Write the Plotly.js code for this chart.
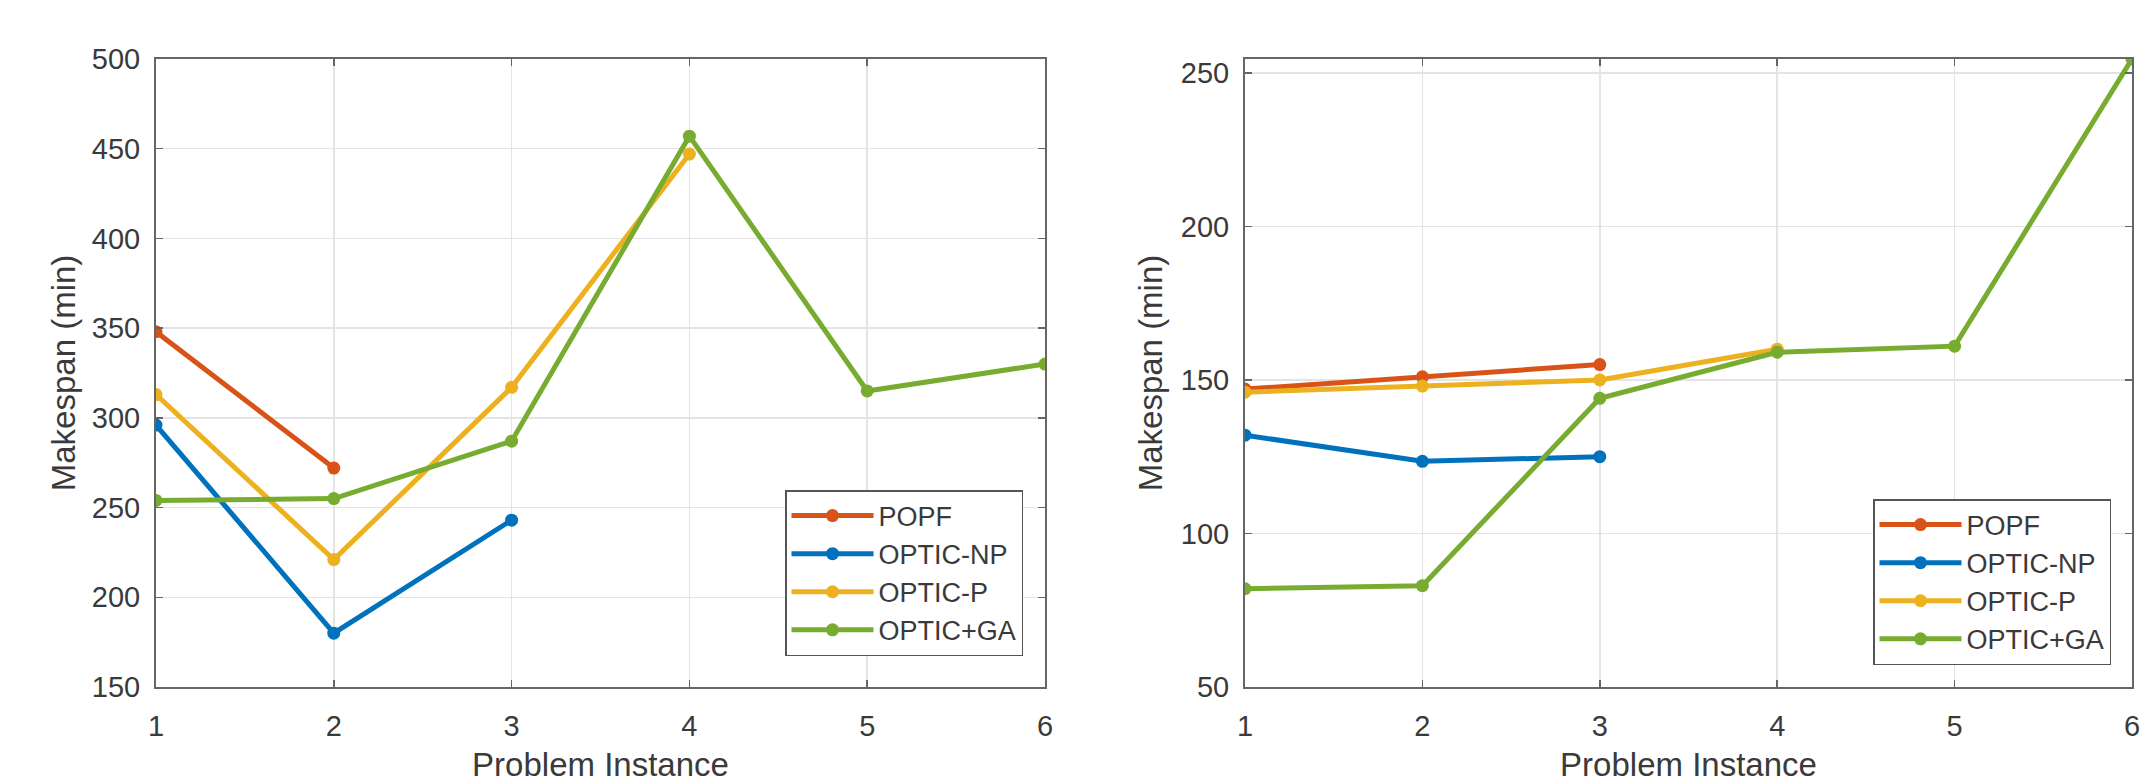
<!DOCTYPE html>
<html>
<head>
<meta charset="utf-8">
<script src="https://cdn.plot.ly/plotly-3.0.1.min.js"></script>
<style>html,body{margin:0;padding:0;background:#fff;}#chart{width:2156px;height:783px;}</style>
</head>
<body>
<div id="chart"></div>
<script>
// ---- data ----
const instances = [1, 2, 3, 4, 5, 6];
const seriesNames = ["POPF", "OPTIC-NP", "OPTIC-P", "OPTIC+GA"];
const seriesColors = ["#D95319", "#0072BD", "#EDB120", "#77AC30"];

// left panel
const leftPOPF    = [348, 272];
const leftOpticNP = [296, 180, 243];
const leftOpticP  = [313, 221, 317, 447];
const leftOpticGA = [254, 255, 287, 457, 315, 330];

// right panel
const rightPOPF    = [147, 151, 155];
const rightOpticNP = [132, 123.5, 125];
const rightOpticP  = [146, 148, 150, 160];
const rightOpticGA = [82, 83, 144, 159, 161, 254.5];

const xTicks = [1, 2, 3, 4, 5, 6];
const leftYTicks = [150, 200, 250, 300, 350, 400, 450, 500];
const rightYTicks = [50, 100, 150, 200, 250];
const xTitle = "Problem Instance";
const yTitle = "Makespan (min)";

const FONT = "Liberation Sans, Arial, Helvetica, sans-serif";
const TXT = "#3a3a3a";

function mk(vals, i, xa, ya, leg) {
  return {
    x: instances.slice(0, vals.length), y: vals,
    type: "scatter", mode: "lines+markers",
    name: seriesNames[i], xaxis: xa, yaxis: ya, legend: leg,
    line: {color: seriesColors[i], width: 5},
    marker: {color: seriesColors[i], size: 13, symbol: "circle"}
  };
}
const leftSets = [leftPOPF, leftOpticNP, leftOpticP, leftOpticGA];
const rightSets = [rightPOPF, rightOpticNP, rightOpticP, rightOpticGA];
const traces = [];
leftSets.forEach((v, i) => traces.push(mk(v, i, "x", "y", "legend")));
rightSets.forEach((v, i) => traces.push(mk(v, i, "x2", "y2", "legend2")));

function xax(domain, anchor) {
  return {
    domain: domain, anchor: anchor, range: [1, 6],
    tickvals: xTicks, ticks: "inside", ticklen: 7, tickcolor: "#666", tickwidth: 1.5,
    showline: true, linecolor: "#666", linewidth: 2, mirror: "ticks",
    showgrid: true, gridcolor: "#e4e4e4", gridwidth: 1.5, zeroline: false,
    tickfont: {family: FONT, size: 29, color: TXT},
    ticklabelstandoff: 12,
    title: {text: xTitle, font: {family: FONT, size: 33, color: TXT}, standoff: 12}
  };
}
function yax(domain, anchor, range, ticks, standoff) {
  return {
    domain: domain, anchor: anchor, range: range,
    tickvals: ticks, ticks: "inside", ticklen: 7, tickcolor: "#666", tickwidth: 1.5,
    showline: true, linecolor: "#666", linewidth: 2, mirror: "ticks",
    showgrid: true, gridcolor: "#e4e4e4", gridwidth: 1.5, zeroline: false,
    tickfont: {family: FONT, size: 29, color: TXT},
    ticklabelstandoff: 8,
    title: {text: yTitle, font: {family: FONT, size: 33, color: TXT}, standoff: standoff}
  };
}
const yDom = [1 - 687 / 783, 1 - 59 / 783];
function leg(x, y) {
  return {
    x: x, y: y, xanchor: "right", yanchor: "bottom", xref: "paper", yref: "paper",
    bgcolor: "#ffffff", bordercolor: "#555", borderwidth: 1.5,
    font: {family: FONT, size: 27, color: TXT},
    itemwidth: 82, tracegroupgap: 0
  };
}
const layout = {
  width: 2156, height: 783, autosize: false,
  margin: {l: 0, r: 0, t: 0, b: 0},
  paper_bgcolor: "#fff", plot_bgcolor: "#fff",
  showlegend: true,
  xaxis: xax([156 / 2156, 1045 / 2156], "y"),
  yaxis: yax(yDom, "x", [150, 500], leftYTicks, 6),
  xaxis2: xax([1245 / 2156, 2132 / 2156], "y2"),
  yaxis2: yax(yDom, "x2", [50, 254.5], rightYTicks, 8),
  legend: leg(1023 / 2156, 1 - 656 / 783),
  legend2: leg(2111 / 2156, 1 - 665 / 783)
};
Plotly.newPlot("chart", traces, layout, {displayModeBar: false, staticPlot: true});
</script>
</body>
</html>
